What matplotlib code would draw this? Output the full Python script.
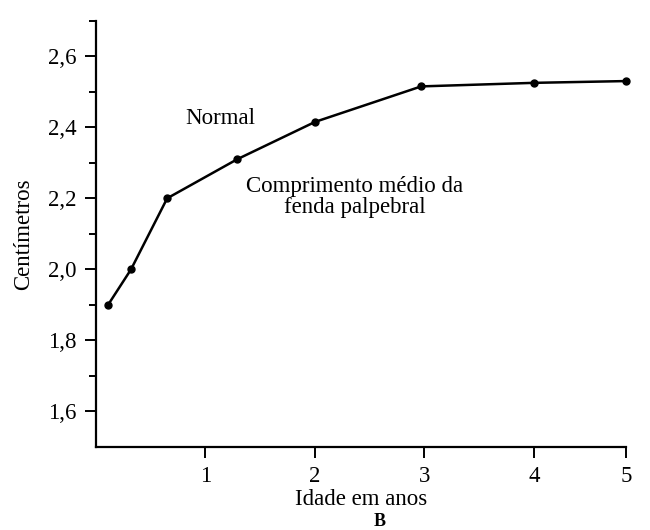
import numpy as np
import matplotlib.pyplot as plt
from matplotlib.ticker import FixedLocator, NullLocator, FuncFormatter

# idade (anos) e comprimento medio da fenda palpebral (cm)
idade = [0.11, 0.32, 0.65, 1.29, 2.0, 2.97, 4.0, 5.0]
comprimento = [1.90, 2.00, 2.20, 2.31, 2.415, 2.515, 2.525, 2.53]

x_ticks = [1, 2, 3, 4, 5]
y_ticks = [1.6, 1.8, 2.0, 2.2, 2.4, 2.6]
y_minor = [1.7, 1.9, 2.1, 2.3, 2.5, 2.7]

plt.rcParams['font.family'] = ['Liberation Serif', 'DejaVu Serif']
plt.rcParams['font.size'] = 16.5

fig = plt.figure(figsize=(6.5, 5.3), dpi=100)
ax = fig.add_axes([0.1477, 0.1566, 0.963 - 0.1477, 0.961 - 0.1566])

# the printed axis squeezes the last year a bit
fwd = lambda v: np.interp(v, [0, 4, 5], [0, 4, 4.84], left=-1e9, right=1e9)
inv = lambda v: np.interp(v, [0, 4, 4.84], [0, 4, 5], left=-1e9, right=1e9)
ax.set_xscale('function', functions=(fwd, inv))

ax.plot(idade, comprimento, color='black', lw=1.8, marker='o', ms=5,
        solid_joinstyle='round', clip_on=False)

ax.set_xlim(0, 5)
ax.set_ylim(1.5, 2.7)
ax.set_xticks(x_ticks)
ax.set_yticks(y_ticks)
ax.yaxis.set_minor_locator(FixedLocator(y_minor))
ax.xaxis.set_minor_locator(NullLocator())
ax.yaxis.set_major_formatter(FuncFormatter(lambda v, p: f'{v:.1f}'.replace('.', ',')))

for s in ['top', 'right']:
    ax.spines[s].set_visible(False)
for s in ['left', 'bottom']:
    ax.spines[s].set_linewidth(1.6)

ax.tick_params(axis='both', which='major', direction='out', length=8, width=1.4, pad=6)
ax.tick_params(axis='y', which='minor', direction='out', length=5, width=1.4)

ax.set_xlabel('Idade em anos', labelpad=1)
ax.set_ylabel('Centímetros', labelpad=10)

ax.text(0.82, 2.425, 'Normal', va='center', ha='left')
ax.text(2.36, 2.205, 'Comprimento médio da\nfenda palpebral', ha='center', va='center',
        linespacing=1.0)

fig.text(380 / 650, 0.0, 'B', ha='center', va='bottom', fontweight='bold', fontsize=13)

fig.savefig('out.png', dpi=100)
